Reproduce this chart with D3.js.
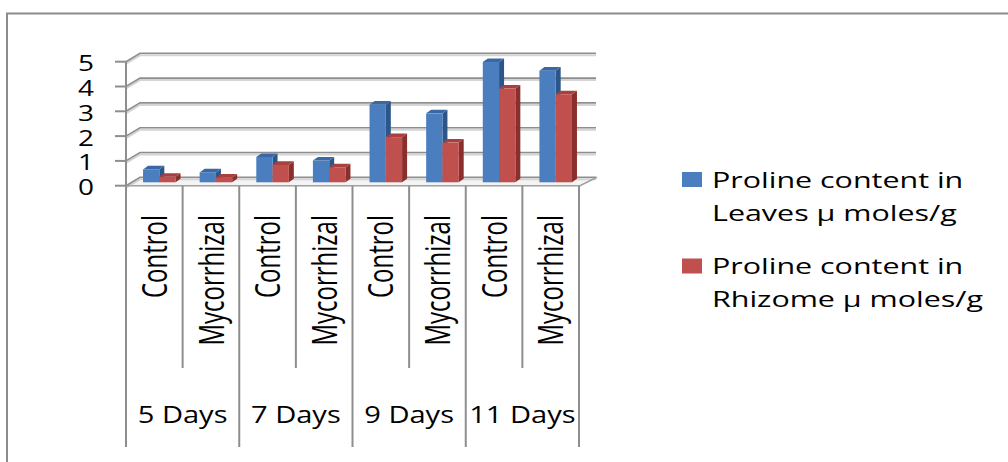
<!DOCTYPE html>
<html>
<head>
<meta charset="utf-8">
<script src="https://cdn.jsdelivr.net/npm/d3@7"></script>
<style>
html,body{margin:0;padding:0;background:#fff;}
svg{display:block;}
text{font-family:"Open Sans",sans-serif;fill:#000;}
</style>
</head>
<body>
<div id="chart"></div>
<script>
// ---- data ----
const treatments = ["Control","Mycorrhizal","Control","Mycorrhizal","Control","Mycorrhizal","Control","Mycorrhizal"];
const days = ["5 Days","7 Days","9 Days","11 Days"];
const leaves = [0.52, 0.40, 1.02, 0.88, 3.13, 2.78, 4.85, 4.50];
const rhizome = [0.22, 0.19, 0.70, 0.60, 1.82, 1.60, 3.78, 3.55];
const seriesNames = ["Proline content in Leaves \u03bc moles/g", "Proline content in Rhizome \u03bc moles/g"];
const legendLines = [["Proline content in","Leaves \u03bc moles/g"],["Proline content in","Rhizome \u03bc moles/g"]];
const yTicks = [0,1,2,3,4,5];

// ---- layout ----
const W = 1008, H = 462;
const SX = 1.33; // horizontal stretch of text
const colors = {
  leaves: {front:"#4a7ebf", top:"#3a68a4", side:"#2c5689"},
  rhizome:{front:"#c0504d", top:"#a9403d", side:"#8a2f2d"}
};
const D = {x:14, y:-8.4};   // wall depth
const F = {x:5, y:-3.4};    // bar front plane offset
const B = {x:5, y:-3.6};    // bar depth

const svg = d3.select("#chart").append("svg").attr("width", W).attr("height", H);

// outer border
svg.append("path").attr("d", `M7,${H+2} V13.5 H${W+2}`).attr("fill","none").attr("stroke","#8c8c8c").attr("stroke-width",2);

const y = d3.scaleLinear().domain([0,5]).range([185.7, 61.7]);
const x0 = d3.scaleBand().domain(d3.range(treatments.length)).range([126, 579]);
const x1 = d3.scaleBand().domain(["leaves","rhizome"]).range([0, x0.bandwidth()]).paddingInner(0).paddingOuter(0.74);
const xRight = x0.range()[1];

// floor
const y0 = y(0);
svg.append("path")
  .attr("d", `M126,${y0} L${xRight+1},${y0} L${xRight+1+D.x+2},${y0+D.y} L${126+D.x},${y0+D.y} Z`)
  .attr("fill","#f4f4f4").attr("stroke","none");

// gridlines (back wall + side wall)
const grid = svg.append("g");
yTicks.forEach(v => {
  const yy = y(v);
  grid.append("path")
    .attr("d", `M126,${yy+2} L${126+D.x},${yy+D.y+2} L${xRight+D.x+3},${yy+D.y+2}`)
    .attr("fill","none").attr("stroke","#d4d4d4").attr("stroke-width",2);
  grid.append("path")
    .attr("d", `M126,${yy} L${126+D.x},${yy+D.y} L${xRight+D.x+3},${yy+D.y}`)
    .attr("fill","none").attr("stroke","#8e8e8e").attr("stroke-width",1.6);
});

// floor front and right edges
svg.append("path")
  .attr("d", `M126,${y0} L${xRight+1},${y0} L${xRight+1+D.x+3},${y0+D.y}`)
  .attr("fill","none").attr("stroke","#a0a0a0").attr("stroke-width",1.6);

// bars
const bars = svg.append("g");
treatments.forEach((t, i) => {
  [["leaves", leaves[i]], ["rhizome", rhizome[i]]].forEach(([key, v]) => {
    const c = colors[key];
    const x = x0(i) + x1(key) + F.x;
    const w = x1.bandwidth();
    const yt = y(v) + F.y;
    const yb = y(0) + F.y;
    const g = bars.append("g");
    g.append("path")
      .attr("d", `M${x+w},${yt} L${x+w+B.x},${yt+B.y} L${x+w+B.x},${yb+B.y} L${x+w},${yb} Z`)
      .attr("fill", c.side);
    g.append("path")
      .attr("d", `M${x},${yt} L${x+w},${yt} L${x+w+B.x},${yt+B.y} L${x+B.x},${yt+B.y} Z`)
      .attr("fill", c.top);
    g.append("rect").attr("x", x).attr("y", yt).attr("width", w).attr("height", yb - yt).attr("fill", c.front);
  });
});

// y axis
svg.append("line").attr("x1",126).attr("x2",126).attr("y1",y(5)).attr("y2",y(0)+1)
  .attr("stroke","#8e8e8e").attr("stroke-width",2);
yTicks.forEach(v => {
  svg.append("line").attr("x1",115).attr("x2",126).attr("y1",y(v)).attr("y2",y(v))
    .attr("stroke","#8e8e8e").attr("stroke-width",2);
  svg.append("text")
    .attr("transform", `translate(94,${y(v)+2}) scale(${SX},1)`)
    .attr("text-anchor","end").attr("dy","0.36em")
    .style("font-size","21px").text(v);
});

// category separator lines
d3.range(treatments.length + 1).forEach(k => {
  const xx = k < treatments.length ? x0(k) : xRight;
  svg.append("line").attr("x1", xx).attr("x2", xx).attr("y1", y0).attr("y2", k % 2 === 0 ? 447 : 368)
    .attr("stroke","#8e8e8e").attr("stroke-width",2);
});

// treatment labels (rotated)
treatments.forEach((t, i) => {
  const cx = x0(i) + x0.bandwidth()/2;
  svg.append("text")
    .attr("transform", `translate(${cx},215) scale(${SX*1.1},1) rotate(-90)`)
    .attr("text-anchor","end").attr("dy","0.36em")
    .style("font-size","24px").text(t);
});

// day labels
days.forEach((d, j) => {
  const cx = (x0(2*j) + (2*j+2 < treatments.length ? x0(2*j+2) : xRight)) / 2;
  svg.append("text")
    .attr("transform", `translate(${cx},423) scale(${SX*0.95},1)`)
    .attr("text-anchor","middle")
    .style("font-size","23px").text(d);
});

// legend
const legend = svg.append("g");
[["leaves",172,188],["rhizome",258.5,274]].forEach(([key, sy, by], k) => {
  legend.append("rect").attr("x",682).attr("y",sy).attr("width",20).attr("height",15).attr("fill",colors[key].front);
  legendLines[k].forEach((ln, li) => {
    legend.append("text")
      .attr("transform", `translate(712,${by + li*33}) scale(${SX*1.04},1)`)
      .style("font-size","22px").text(ln);
  });
});
</script>
</body>
</html>
